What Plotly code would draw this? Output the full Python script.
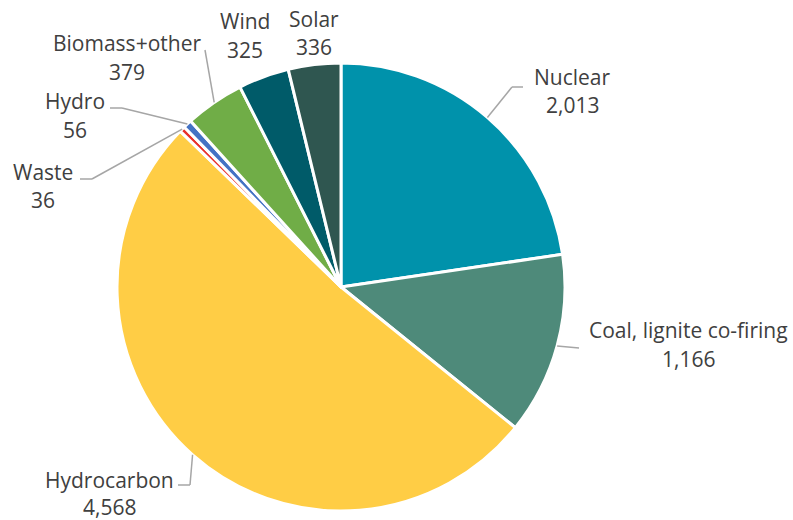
import math
import plotly.graph_objects as go

# Generation by source (GWh)
sources = ["Nuclear", "Coal, lignite co-firing", "Hydrocarbon", "Waste", "Hydro",
           "Biomass+other", "Wind", "Solar"]
values = [2013, 1166, 4568, 36, 56, 379, 325, 336]
colors = ["#0092AB", "#4E8A7A", "#FFCD45", "#E8302B", "#4472C4",
          "#70AD47", "#005B69", "#2F5650"]

W, H = 793, 520
CX, CY, R = 341, 287, 224  # pie centre and radius in pixels

# Label placement (pixels): text centre x, name line y, value line y,
# and leader elbow/end points (None = no leader)
label_pos = {
    "Nuclear": (572, 77, 105, [(512, 87), (523, 87)]),
    "Coal, lignite co-firing": (688, 330, 359, [(579, 348)]),
    "Hydrocarbon": (109, 480, 507, [(190, 485), (178, 485)]),
    "Waste": (43, 172, 200, [(92, 179), (80, 179)]),
    "Hydro": (75, 101, 130, [(122, 108), (110, 108)]),
    "Biomass+other": (127, 43, 72, [(205, 50)]),
    "Wind": (245, 21, 50, None),
    "Solar": (314, 19, 47, None),
}

fig = go.Figure()
fig.add_trace(go.Pie(
    labels=sources, values=values, sort=False, direction="clockwise", rotation=0,
    marker=dict(colors=colors, line=dict(color="white", width=3)),
    textinfo="none", hoverinfo="label+value", showlegend=False,
    domain=dict(x=[(CX - R) / W, (CX + R) / W], y=[1 - (CY + R) / H, 1 - (CY - R) / H]),
))

# invisible pixel-space axes for labels and leader lines
fig.add_trace(go.Scatter(x=[0, W], y=[0, H], mode="markers", marker=dict(opacity=0),
                         hoverinfo="skip", showlegend=False))

font = dict(family="Open Sans", size=21, color="#404040")
total = sum(values)
cum = 0
shapes, annotations = [], []
for name, v in zip(sources, values):
    mid = (cum + v / 2) / total * 2 * math.pi
    cum += v
    tx, ny, vy, leader = label_pos[name]
    for txt, yy in ((name, ny), (f"{v:,}", vy)):
        annotations.append(dict(x=tx, y=yy, xref="x", yref="y", showarrow=False,
                                text=txt, font=font))
    if leader:
        pts = [(CX + R * math.sin(mid), CY - R * math.cos(mid))] + leader
        for (x0, y0), (x1, y1) in zip(pts[:-1], pts[1:]):
            shapes.append(dict(type="line", xref="x", yref="y", x0=x0, y0=y0, x1=x1, y1=y1,
                               line=dict(color="#A6A6A6", width=1.5)))

fig.update_layout(
    width=W, height=H, margin=dict(l=0, r=0, t=0, b=0),
    paper_bgcolor="white", plot_bgcolor="rgba(0,0,0,0)",
    xaxis=dict(range=[0, W], visible=False, domain=[0, 1], fixedrange=True),
    yaxis=dict(range=[H, 0], visible=False, domain=[0, 1], fixedrange=True),
    shapes=shapes, annotations=annotations,
)
fig.write_html("out.html")
